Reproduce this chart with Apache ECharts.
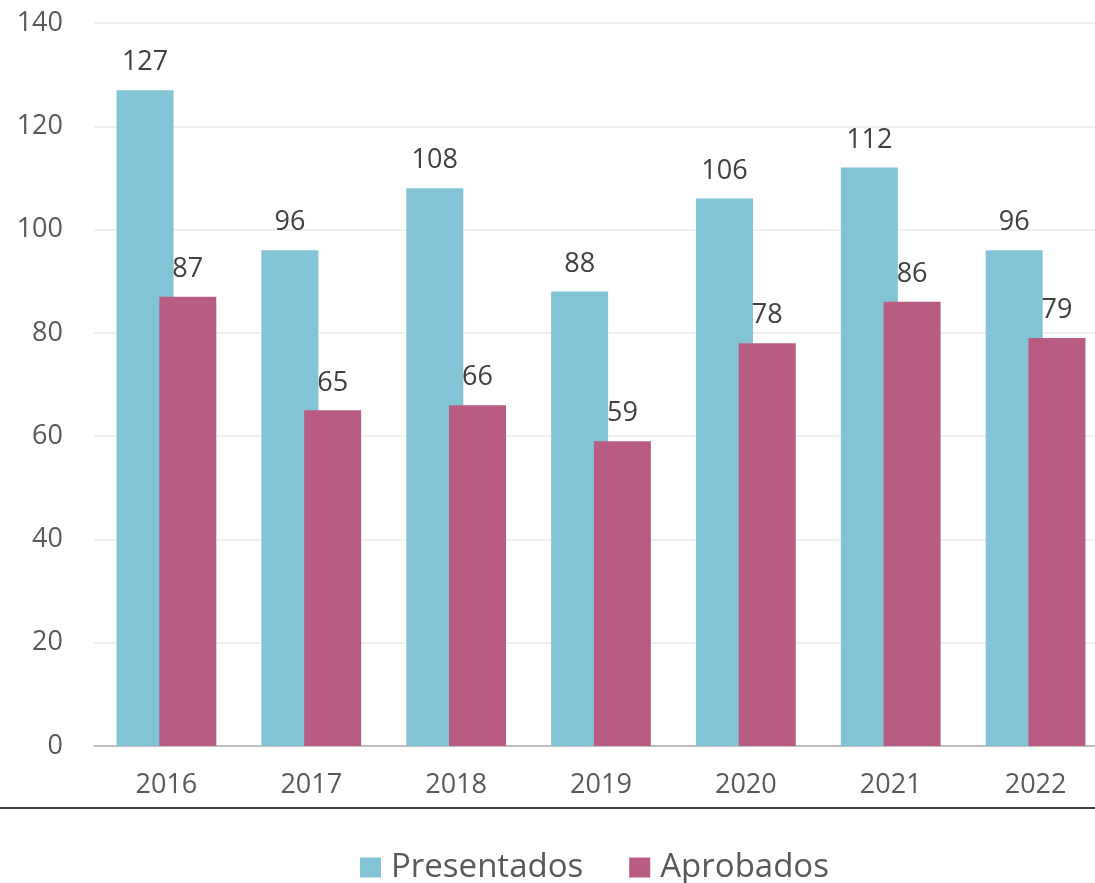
<!DOCTYPE html>
<html>
<head>
<meta charset="utf-8">
<script src="https://cdn.jsdelivr.net/npm/echarts@6/dist/echarts.min.js"></script>
<style>
  html, body { margin: 0; padding: 0; background: #fff; overflow: hidden; }
  #chart { width: 1110px; height: 883px; }
</style>
</head>
<body>
<div id="chart"></div>
<script>
  const years = ['2016', '2017', '2018', '2019', '2020', '2021', '2022']
  const presentados = [127, 96, 108, 88, 106, 112, 96]
  const aprobados = [87, 65, 66, 59, 78, 86, 79]
  const yTicks = { min: 0, max: 140, interval: 20 }

  const fontFamily = '"Open Sans", "Noto Sans", sans-serif'

  let myChart = echarts.init(document.getElementById('chart'))
  let option = {
    animation: false,
    textStyle: { fontFamily: fontFamily },
    grid: {
      left: 94,
      top: 23,
      width: 1014,
      height: 723
    },
    legend: {
      top: 846,
      left: 355,
      itemWidth: 21,
      itemHeight: 20,
      itemGap: 46,
      icon: 'rect',
      textStyle: { fontSize: 33, color: '#595959', fontFamily: fontFamily, padding: [0, 0, 0, 5] },
      data: ['Presentados', 'Aprobados']
    },
    xAxis: {
      type: 'category',
      data: years,
      axisTick: { show: false },
      axisLine: { lineStyle: { color: '#BFBFBF', width: 2 } },
      axisLabel: { fontSize: 27, color: '#595959', margin: 26 }
    },
    yAxis: {
      type: 'value',
      min: yTicks.min,
      max: yTicks.max,
      interval: yTicks.interval,
      axisLine: { show: false },
      axisTick: { show: false },
      axisLabel: { fontSize: 27, color: '#595959', margin: 31 },
      splitLine: { lineStyle: { color: '#F0F0F0', width: 2 } }
    },
    series: [
      {
        name: 'Presentados',
        type: 'bar',
        data: presentados,
        barWidth: 57,
        barGap: '-25%',
        itemStyle: { color: '#82C4D6' },
        label: { show: true, position: 'top', distance: 14, fontSize: 27, color: '#404040' }
      },
      {
        name: 'Aprobados',
        type: 'bar',
        data: aprobados,
        barWidth: 57,
        barGap: '-25%',
        itemStyle: { color: '#B85C84' },
        label: { show: true, position: 'top', distance: 14, fontSize: 27, color: '#404040' }
      }
    ],
    graphic: [
      {
        type: 'line',
        shape: { x1: 0, y1: 808, x2: 1110, y2: 808 },
        style: { stroke: '#000', lineWidth: 1.5 }
      }
    ]
  }

  myChart.setOption(option)
  window.addEventListener('resize', myChart.resize)
</script>
</body>
</html>
